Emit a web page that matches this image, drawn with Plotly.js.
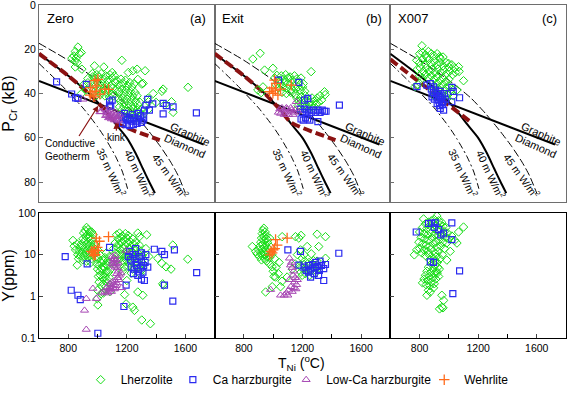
<!DOCTYPE html>
<html><head><meta charset="utf-8">
<script src="https://cdn.plot.ly/plotly-3.0.1.min.js"></script>
<style>body{margin:0;background:#fff}#chart{width:567px;height:395px}</style>
</head><body><div id="chart"></div>
<script>
// ---------- reference curves (T in °C, P in kB) ----------
const geo35T = [600, 750, 900, 1000, 1055, 1120, 1168, 1205];
const geo35P = [26.4, 36, 46.5, 55, 60.5, 68, 75, 83];
const geo40T = [600, 800, 950, 1050, 1120, 1200, 1260, 1310, 1350, 1392];
const geo40P = [22, 32, 40.5, 47.5, 53.5, 60, 67, 74, 79.5, 85];
const geo45T = [600, 800, 1000, 1150, 1250, 1350, 1430, 1500, 1550, 1600];
const geo45P = [17.3, 25, 34, 42, 49, 57, 64, 71, 77, 85];
const gdT = [600, 1725];
const gdP = [34.3, 63];
const condABT = [600, 800, 950, 1050, 1120, 1425];
const condABP = [22, 32, 40.5, 47.5, 53, 61];
const condCT = [600, 1145];
const condCP = [24.6, 52.7];

// ---------- Zero (a) ----------
const zeroLherzP = [[866,19],[848,21],[877,22],[889,21.5],[838,23],[825,24],[854,24],[845,25.5],[862,26],[848,28],[893,29],[979,27.5],[1043,28],[1166,25],[1241,29.7],[1270,29],[1325,29.7],[1210,30.5],[1100,30.5],
[1311,35.4],[1448,38],[1440,39],[1618,37.2],[1505,43.7],[1516,48.5],[1343,42.2],[1348,43.7],[1302,35.7],[1275,33.6],[1380,40],[1400,44],[1460,45],[1350,47],
[934,33.2],[934,35.1],[968,32.4],[905,36],[920,38.5],[890,40],
[965,31],[980,33],[995,31.5],[1010,32.5],[1025,31],[1040,33.5],[1055,32],[1070,34],[1085,31.5],[1100,33],[1115,32],
[970,35],[985,36.5],[1000,35],[1015,37],[1030,35.5],[1045,37.5],[1060,36],[1075,38],[1090,36.5],[1105,37.5],[1120,35],
[975,39.5],[990,41],[1005,39],[1020,40.5],[1035,39],[1050,41],[1065,39.5],[1080,41.5],[1095,40],[1110,41],
[1130,34],[1145,36],[1160,33.5],[1175,35.5],[1190,34],[1205,36.5],[1220,35],[1235,37],[1250,35.5],
[1135,38],[1150,39.5],[1165,38],[1180,40],[1195,38.5],[1210,40.5],[1225,39],[1240,41],[1255,39.5],[1270,41],
[1140,42],[1155,43.5],[1170,42],[1185,44],[1200,42.5],[1215,44.5],[1230,43],[1245,45],[1260,43.5],[1275,45],[1290,44],
[1150,46],[1165,47.5],[1180,46],[1195,48],[1210,46.5],[1225,48.5],[1240,47],[1255,49],[1270,47.5],[1285,48.5],[1300,47],
[1170,50],[1200,50.5],[1230,51],[1260,51.5],[1290,50.5],[1310,49.5]];
const zeroCaHarzP = [[720,34.7],[823,40.2],[850,42],[866,42.2],[923,35.9],[1082,45.2],[1082,43.7],[1100,43],[1090,45.8],[1330,45.3],[1343,42.6],[1377,44.7],[1354,47.5],[1320,47.5],[1448,44.4],[1516,46],[1448,49.2],[1675,48.7],[1470,45.5],
[1160,50],[1175,51.5],[1190,50.5],[1205,52],[1220,51],[1235,52.5],[1250,51],[1265,52.5],[1280,51.5],[1295,50],[1310,52],[1170,53.5],[1195,54],[1220,54.5],[1245,54],[1270,53.5],[1300,53],[1185,49],[1240,49.5],[1275,49],[1315,51]];
const zeroLowCaP = [[900,42.6],[1016,48.3],[1025,48.2],[1050,47],[1060,48.5],[1070,47.5],[1080,49],[1090,48],[1100,49.5],[1110,48.5],[1120,50],[1130,49],[1140,50.5],[1150,49.5],[1055,50],[1075,51],[1095,51.5],[1115,52],[1135,52.5],[1065,49.5],[1085,50.5],[1105,51],[1125,51.5],[1145,52]];
const zeroWehrP = [[982,34.2],[1002,33.6],[950,37.3],[989,38.9],[950,40.7],[1016,40.3],[1050,38],[963,39.2],[975,41.5],[1075,38.1],[995,36.5]];

const zeroLherzY = [[925,45],[935,40],[915,38],[945,35],[905,33],[930,30],[950,28],[920,27],[940,25],[900,24],[960,23],[910,21],[935,20],[955,19],[890,18],[925,17],[945,16],[970,15],[880,15],[905,14],[930,13],[955,12.5],[875,12],[895,11.5],[920,11],[945,10.5],[965,10],[865,10],[885,9.5],[910,9],[935,8.5],[960,8],[850,13],[860,18],[832,22],[840,16],[900,7.5],[925,7],[955,6.5],[870,8],[975,12],[980,18],[970,30],[960,35],[861,5.6],
[990,9],[1005,8],[1020,9.5],[1035,7.5],[1050,8.5],[1065,7],[1080,9],[995,6],[1010,5.5],[1025,6.5],[1040,5],[1055,6],[1070,5.5],[1085,6.5],[1000,4.5],[1015,4],[1030,4.5],[1045,3.5],[1060,4],[1075,3.8],[1090,4.5],[1005,3],[1020,3.2],[1035,2.7],[1050,3],[1065,2.5],[1080,2.8],[1010,2.2],[1040,2],[1070,2.1],[1025,1.8],[1055,1.7],[1000,1.4],[998,0.88],[1002,0.62],[1025,1.16],[1085,1.3],[1040,1.2],[985,11],[1000,13],[1060,11],
[1130,30],[1150,33],[1170,28],[1190,32],[1210,29],[1140,24],[1160,26],[1180,22],[1200,25],[1220,21],[1240,24],[1260,20],[1120,19],[1145,18],[1165,20],[1185,17],[1205,19],[1225,16],[1245,18],[1265,15],[1285,17],[1110,14],[1135,15],[1155,13],[1175,14],[1195,12],[1215,13.5],[1235,11.5],[1255,12.5],[1275,11],[1295,12],[1125,11],[1145,10],[1165,10.5],[1185,9],[1205,9.8],[1225,8.5],[1245,9],[1265,8],[1285,8.8],[1305,9.5],[1135,7.5],[1155,8],[1175,7],[1195,7.5],[1215,6.5],[1235,7],[1255,6],[1275,6.5],[1295,5.5],[1315,6],[1150,5.5],[1180,5],[1210,5.2],[1240,4.5],[1270,4.8],[1300,4.2],[1170,4],[1230,3.6],[1290,3.5],
[1275,33],[1336,30],[1286,27],[1411,8.2],[1439,6.2],[1468,5.1],[1502,4.5],[1514,17],[1616,7.8],[1445,2.0],[1450,1.85],[1275,1.27],[1309,1.06],[1195,0.66],[1241,0.55],[1252,0.46],[1302,0.27],[1361,0.22],[1330,14],[1350,9],[1185,1.1],[1200,2.4]];
const zeroCaHarzY = [[779,9],[929,6],[820,1.4],[866,1.06],[882,0.83],[1002,0.13],[1180,0.57],[1195,1.85],[1082,15],[1343,5],[1388,13.5],[1439,12],[1457,10],[1525,13],[1677,3.7],[1514,0.77],[1457,1.85],[1320,2.4],[1300,2.6],
[1210,9],[1225,7.5],[1240,10],[1255,8],[1270,6.5],[1285,9],[1300,7],[1315,5.5],[1230,5],[1250,4.5],[1265,5.5],[1280,4],[1295,4.8],[1310,3.8],[1245,3.5],[1275,3.2],[1325,6.5],[1330,10],[1220,12],[1260,14],[1300,11]];
const zeroLowCaY = [[1195,12.6],[923,0.88],[911,0.46],[923,0.16],[968,1.54],[991,0.88],[1025,1.2],
[1100,9],[1110,8],[1120,9.5],[1105,7],[1115,6.5],[1125,7.5],[1130,6],[1110,5.5],[1120,5],[1135,4.8],[1140,6.5],[1100,6],
[1060,1.6],[1075,1.4],[1085,1.7],[1095,1.3],[1105,1.6],[1115,1.5],[1125,1.8],[1080,2],[1100,2.2],[1120,2.4],[1140,2.8],[1150,3.2],[1130,2.1],[1110,1.9],[1090,1.5],[1070,1.2],[1145,2.5],[1160,3.6],[1165,1.6],[1050,1.3],[1130,3.5],[1140,4]];
const zeroWehrY = [[991,25],[1013,21],[1075,27],[968,11],[957,12],[979,13],[998,15],[985,10],[1005,12.5],[975,9.5]];

// ---------- Exit (b) ----------
const exitLherzP = [[911,21.8],[861,24.4],[941,29.4],[998,28.6],[1259,30.1],[895,38.4],[918,39.6],[930,37],
[1010,33],[1025,31.8],[1040,34],[1055,32],[1070,33.5],[1085,31.5],[1100,33],[1115,32.5],[1130,34],[1145,32],[1160,33.5],[1175,35],[1190,33],[1205,35.5],[1020,36],[1035,37.5],[1050,35.5],[1065,37],[1080,35],[1095,37.5],[1110,36],[1125,38],[1140,36.5],[1155,38],[1170,37],[1185,38.5],[1200,37],[1215,39],[1060,39.5],[1090,40],[1120,39.5],[1150,40.5],
[1160,42],[1175,43.5],[1190,41.5],[1205,43],[1220,41],[1235,42.5],[1250,44],[1265,42],[1280,43.5],[1300,42],[1320,41],[1350,39.2],[1355,40.5],[1170,45.5],[1185,47],[1200,45],[1215,46.5],[1230,45.5],[1245,47],[1260,45.5],[1275,46.5],[1290,45],[1310,44],[1330,43]];
const exitCaHarzP = [[1036,33.9],[1175,35],[1236,42.2],[1214,43],[1185,47],[1200,48.5],[1215,47],[1230,48.5],[1245,47.5],[1260,48.5],[1275,47.5],[1290,48.5],[1305,47.5],[1320,48.5],[1335,47.5],[1350,48],[1361,48],[1190,51.5],[1205,52],[1220,51],[1235,51.5],[1250,52],[1305,52.7],[1452,45.2]];
const exitLowCaP = [[1035,48.5],[1050,49],[1065,47.5],[1080,48.5],[1095,47],[1110,48],[1125,47.5],[1140,48.5],[1155,47],[1168,48],[1045,47],[1075,49.5],[1105,49.5],[1135,49.5],[1157,43.7],[1060,46.5],[1090,46.5],[1120,46.5]];
const exitWehrP = [[1009,33.9],[1020,35.4],[975,39.2],[998,39.9],[1032,40.7],[1050,38],[1123,36.2],[990,37.5],[1015,38.5]];

const exitLherzY = [[936,43],[930,38],[945,35],[925,32],[950,29],[935,27],[920,25],[955,24],[940,22],[915,20],[960,20],[930,18],[950,17],[910,16],[857,15.7],[940,15],[965,14],[925,13.5],[900,13],[950,12.5],[935,11.5],[915,11],[970,11],[890,10.5],[945,10],[925,9.5],[960,9],[905,9],[940,8],[975,8.5],[920,7.5],[955,7],[880,12],[985,15],[990,10],[975,25],
[993,5.1],[1016,2.9],[1050,1.7],[1000,4],[948,1.27],[993,1.7],[1020,5],[1035,3.5],[1005,3],[975,6],[1060,2.3],[1040,6.5],[1010,8],
[1061,27],[1152,27],[1175,25],[1190,29],[1300,31],[1357,27],[1357,8.2],[1311,15.7],[1232,15.7],[1186,13],[1198,8.2],[1095,2.9],[1198,3.2],
[1180,5.5],[1195,4.8],[1210,5.8],[1225,4.5],[1240,5.2],[1255,4],[1270,5],[1285,4.3],[1300,5.5],[1310,4.8],[1190,3.8],[1220,3.5],[1250,3.2],[1280,3.4],[1215,7],[1245,6.5],[1275,7.2],[1300,7],[1210,10],[1260,10.5],[1130,4.5],[1150,6],[1165,10]];
const exitCaHarzY = [[1100,13],[1186,12],[1175,5.6],[1345,2.4],[1255,2.9],[1448,10.8],[1210,5],[1225,4.2],[1240,5.5],[1255,4.5],[1270,5.8],[1285,4.8],[1300,5.2],[1315,4.2],[1330,5.5],[1345,4.6],[1357,5.8],[1280,3.5],[1310,3.2],[1240,3.8],[1290,6.5],[1320,7]];
const exitLowCaY = [[982,1.45],[1111,8.2],[1118,5.6],[1130,4.9],[1125,6.5],[1140,4],[1135,3.2],[1150,2.8],[1145,2.2],[1160,1.9],[1120,1.7],[1105,1.4],[1090,1.2],[1075,1.06],[1050,1.06],[1100,1.06],[1130,1.3],[1155,1.5],[1165,2.5],[1110,2.5],[1140,1.6]];
const exitWehrY = [[1016,23],[1027,17],[1000,13],[977,9.9],[993,11],[1095,25],[1010,14],[985,12]];

// ---------- X007 (c) ----------
const x007LherzP = [[816,18.4],[850,23.8],[936,23.4],[998,26.4],[1066,27.9],[1100,34.2],[1055,38.4],[770,36.9],[790,36],
[800,22],[820,21.5],[840,22.5],[860,21],[880,22],[900,23],[920,22],[940,24],[960,23.5],
[780,25],[800,26],[820,24.5],[840,26.5],[860,25],[880,26.5],[900,25.5],[920,27],[940,26],[960,27.5],[980,26],[1000,28],[1020,27],[1040,28.5],
[785,29],[805,28.5],[825,30],[845,28.5],[865,30],[885,29],[905,30.5],[925,29],[945,30.5],[965,29.5],[985,31],[1005,30],[1025,31.5],[1045,30.5],[1070,30],
[800,32],[820,33],[840,31.5],[860,33],[880,32],[900,33.5],[920,32.5],[940,34],[960,33],[980,34.5],[1000,33.5],
[880,35.5],[900,36.5],[920,35.5],[940,37],[960,36],[980,37.5],[1000,36.5],[1020,38],[890,38.5],[910,39.5],[930,38.5],[950,40],[970,39],[990,40.5],[1010,39.5],[1030,41],[900,41],[945,42],[985,42.5]];
const x007CaHarzP = [[782,36.9],[850,36.2],[873,35.5],[895,37],[1020,37.2],[1030,39],[1020,43.7],[1073,41.9],[941,46.7],[964,47.5],[955,45],
[880,38],[895,39.5],[910,38.5],[925,40],[940,39],[955,41],[970,40],[885,41.5],[900,42.5],[915,41],[930,43],[945,42],[960,43.5],[975,42.5],[920,44.5],[935,45.5],[950,44]];

const x007LherzY = [[918,85],[827,72],[1100,46],[1066,35],[1055,19],[1009,12],[764,9.9],[986,7.4],
[860,60],[880,65],[900,70],[930,65],[950,60],[840,55],[870,50],[890,55],[910,50],[940,52],[960,48],[980,45],[820,45],[850,42],[875,40],[900,42],[920,38],[945,40],[970,36],[990,33],
[800,35],[830,32],[855,30],[880,33],[905,30],[930,28],[955,30],[980,26],[1000,24],[810,26],[835,24],[860,22],[885,25],[910,21],[935,23],[960,20],[985,19],[795,20],[820,18],[845,17],[870,16],[895,18],[920,15],[945,16],[970,14],[800,14],[830,13],[855,12],[880,13.5],[905,11],[930,12],[955,10],[815,11],[840,9.5],[865,10],[890,8.5],[915,9],[940,8],[780,13],[1020,28],[1040,22],
[880,6],[905,5.5],[925,5],[860,5],[890,4.5],[915,4],[935,4.5],[850,4],[875,3.7],[900,3.4],[920,3.6],[840,3.2],[865,3],[890,2.8],[910,2.6],[930,3],[830,2.6],[855,2.4],[880,2.2],[900,2],[845,1.9],[870,1.8],[895,1.6],[820,2.1],[860,1.4],[850,1.06],[873,1.27],[952,1.06],[964,0.8],[952,0.55],[960,0.53],[936,0.5],[905,7],[870,7.5],[920,6.5]];
const x007CaHarzY = [[777,35],[861,56],[880,57],[907,58],[1020,58],[1020,23],[964,33],[945,30],[873,6.7],[895,6.5],[1073,4.1],[1027,1.16],[930,40],[900,45]];

// ---------- tick labels ----------
const pTicks = [0, 20, 40, 60, 80];
const tTicks = [800, 1200, 1600];
const tMinor = [1000, 1400];
const yTicks = [0.1, 1, 10, 100];
const yTickText = ['0.1', '1', '10', '100'];
const rockNames = ['Lherzolite', 'Ca harzburgite', 'Low-Ca harzburgite', 'Wehrlite'];

// ---------- styles ----------
const GREEN = '#17dd17', BLUE = '#2a2af0', PURPLE = '#a646b3', ORANGE = '#ff6a1a', DRED = '#8b1212';
const styles = [
  {symbol: 'diamond-open', size: 6.5, color: GREEN, line: {width: 1, color: GREEN}},
  {symbol: 'square-open', size: 6, color: BLUE, line: {width: 1.2, color: BLUE}},
  {symbol: 'triangle-up-open', size: 7, color: PURPLE, line: {width: 1, color: PURPLE}},
  {symbol: 'cross-thin-open', size: 7.5, color: ORANGE, line: {width: 1.3, color: ORANGE}}
];
const legendIds = ['legend', 'legend2', 'legend3', 'legend4'];

const traces = [];
function line(xs, ys, xa, ya, style) {
  traces.push({type: 'scatter', mode: 'lines', x: xs, y: ys, xaxis: xa, yaxis: ya,
    line: Object.assign({shape: 'spline', smoothing: 0.6}, style), showlegend: false, hoverinfo: 'skip'});
}
function pts(arr, xa, ya, k, show) {
  traces.push({type: 'scatter', mode: 'markers', x: arr.map(d => d[0]), y: arr.map(d => d[1]),
    xaxis: xa, yaxis: ya, name: rockNames[k], legendgroup: rockNames[k], showlegend: !!show,
    legend: legendIds[k], marker: styles[k], hoverinfo: 'skip'});
}

const topAx = [['x', 'y'], ['x2', 'y2'], ['x3', 'y3']];
topAx.forEach(([xa, ya], i) => {
  line(geo35T, geo35P, xa, ya, {color: 'black', width: 1, dash: '7px,3px,2px,3px'});
  line(geo45T, geo45P, xa, ya, {color: 'black', width: 1, dash: '8px,3px'});
  line(geo40T, geo40P, xa, ya, {color: 'black', width: 2});
  line(gdT, gdP, xa, ya, {color: 'black', width: 2});
  if (i < 2) line(condABT, condABP, xa, ya, {color: DRED, width: 4, dash: '9px,4px'});
  else line(condCT, condCP, xa, ya, {color: DRED, width: 4, dash: '9px,4px'});
});

pts(zeroLherzP, 'x', 'y', 0, true); pts(zeroCaHarzP, 'x', 'y', 1, true); pts(zeroLowCaP, 'x', 'y', 2, true); pts(zeroWehrP, 'x', 'y', 3, true);
pts(exitLherzP, 'x2', 'y2', 0); pts(exitCaHarzP, 'x2', 'y2', 1); pts(exitLowCaP, 'x2', 'y2', 2); pts(exitWehrP, 'x2', 'y2', 3);
pts(x007LherzP, 'x3', 'y3', 0); pts(x007CaHarzP, 'x3', 'y3', 1);
pts(zeroLherzY, 'x4', 'y4', 0); pts(zeroCaHarzY, 'x4', 'y4', 1); pts(zeroLowCaY, 'x4', 'y4', 2); pts(zeroWehrY, 'x4', 'y4', 3);
pts(exitLherzY, 'x5', 'y5', 0); pts(exitCaHarzY, 'x5', 'y5', 1); pts(exitLowCaY, 'x5', 'y5', 2); pts(exitWehrY, 'x5', 'y5', 3);
pts(x007LherzY, 'x6', 'y6', 0); pts(x007CaHarzY, 'x6', 'y6', 1);

// ---------- layout ----------
const TOPC = '#6e6e6e';
const xd = [[0, 1/3], [1/3, 2/3], [2/3, 1]];
const topDom = [0.4084, 1], botDom = [0, 0.3754];
const legX = [0.079, 0.254, 0.469, 0.731];
const layout = {
  width: 567, height: 395, margin: {l: 39, r: 1, t: 5, b: 57, autoexpand: false},
  paper_bgcolor: 'white', plot_bgcolor: 'white',
  font: {family: 'Liberation Sans, Arial, sans-serif', color: 'black', size: 11},
  showlegend: true,
  annotations: [], shapes: []
};
legendIds.forEach((id, k) => {
  layout[id] = {orientation: 'h', x: legX[k], xanchor: 'left', yref: 'container', y: 0.002, yanchor: 'bottom',
    font: {size: 12}, bgcolor: 'rgba(0,0,0,0)', itemwidth: 30};
});
for (let i = 0; i < 3; i++) {
  const s = i === 0 ? '' : String(i + 1);
  const sb = String(i + 4);
  layout['xaxis' + s] = {domain: xd[i], range: [600, 1800], anchor: 'y' + s, showgrid: false, zeroline: false,
    showline: true, mirror: true, linecolor: TOPC, linewidth: 1, ticks: '', showticklabels: false};
  layout['yaxis' + s] = {domain: topDom, range: [89, 0], anchor: 'x' + s, showgrid: false, zeroline: false,
    showline: true, mirror: true, linecolor: TOPC, linewidth: 1, ticks: 'inside', ticklen: 4, tickcolor: TOPC,
    tickvals: pTicks, showticklabels: i === 0, tickfont: {size: 10.5}, ticklabeloverflow: 'allow'};
  layout['xaxis' + sb] = {domain: xd[i], range: [600, 1800], anchor: 'y' + sb, showgrid: false, zeroline: false,
    showline: true, mirror: true, linecolor: 'black', linewidth: 1, ticks: 'inside', ticklen: 4,
    tickvals: tTicks, tickfont: {size: 10.5},
    minor: {tickmode: 'array', tickvals: tMinor, ticks: 'inside', ticklen: 4, tickcolor: 'black'}};
  layout['yaxis' + sb] = {domain: botDom, type: 'log', range: [-1, 2], anchor: 'x' + sb, showgrid: false, zeroline: false,
    showline: true, mirror: true, linecolor: 'black', linewidth: 1, ticks: 'inside', ticklen: 4,
    tickvals: yTicks, ticktext: yTickText, showticklabels: i === 0, tickfont: {size: 10.5}, ticklabeloverflow: 'allow'};
}
layout.yaxis.title = {text: 'P<sub>Cr</sub> (kB)', font: {size: 16}, standoff: 6};
layout.yaxis4.title = {text: 'Y(ppm)', font: {size: 16}, standoff: 2};

const panelNames = ['Zero', 'Exit', 'X007'];
const panelTags = ['(a)', '(b)', '(c)'];
for (let i = 0; i < 3; i++) {
  const s = i === 0 ? '' : String(i + 1);
  const xr = 'x' + s, yr = 'y' + s;
  layout.annotations.push(
    {xref: xr + ' domain', yref: yr + ' domain', x: 0.032, y: 0.934, text: panelNames[i], showarrow: false, xanchor: 'left', yanchor: 'middle', font: {size: 13}},
    {xref: xr + ' domain', yref: yr + ' domain', x: 0.962, y: 0.934, text: panelTags[i], showarrow: false, xanchor: 'right', yanchor: 'middle', font: {size: 13}},
    {xref: xr, yref: yr, x: 1100, y: 75.5, text: '35 m W/m<sup>2</sup>', textangle: 65, showarrow: false, font: {size: 10.5}},
    {xref: xr, yref: yr, x: 1285, y: 76.3, text: '40 m W/m<sup>2</sup>', textangle: 65, showarrow: false, font: {size: 10.5}},
    {xref: xr, yref: yr, x: 1500, y: 77, text: '45 m W/m<sup>2</sup>', textangle: 54, showarrow: false, font: {size: 10.5}},
    {xref: xr, yref: yr, x: 1630, y: 58.3, text: 'Graphite', textangle: 24, showarrow: false, font: {size: 11}},
    {xref: xr, yref: yr, x: 1597, y: 63.6, text: 'Diamond', textangle: 24, showarrow: false, font: {size: 11}}
  );
}
layout.annotations.push(
  {xref: 'x', yref: 'y', x: 1005, y: 45.5, axref: 'x', ayref: 'y', ax: 815, ay: 65.3,
    text: 'Conductive<br>Geotherm', align: 'left', font: {size: 10}, showarrow: true,
    arrowcolor: DRED, arrowhead: 2, arrowsize: 1, arrowwidth: 1.2, standoff: 0, startstandoff: 0},
  {xref: 'x', yref: 'y', x: 1126, y: 53.2, axref: 'x', ayref: 'y', ax: 1132, ay: 59.9,
    text: 'kink', font: {size: 10}, showarrow: true,
    arrowcolor: DRED, arrowhead: 2, arrowsize: 1, arrowwidth: 1.2, standoff: 0, startstandoff: 0},
  {xref: 'paper', yref: 'paper', x: 0.499, y: -0.075, xanchor: 'center', yanchor: 'middle',
    text: 'T<sub>Ni</sub> (<sup>o</sup>C)', showarrow: false, font: {size: 14}}
);

Plotly.newPlot('chart', traces, layout, {staticPlot: true, displayModeBar: false});
</script>
</body></html>
